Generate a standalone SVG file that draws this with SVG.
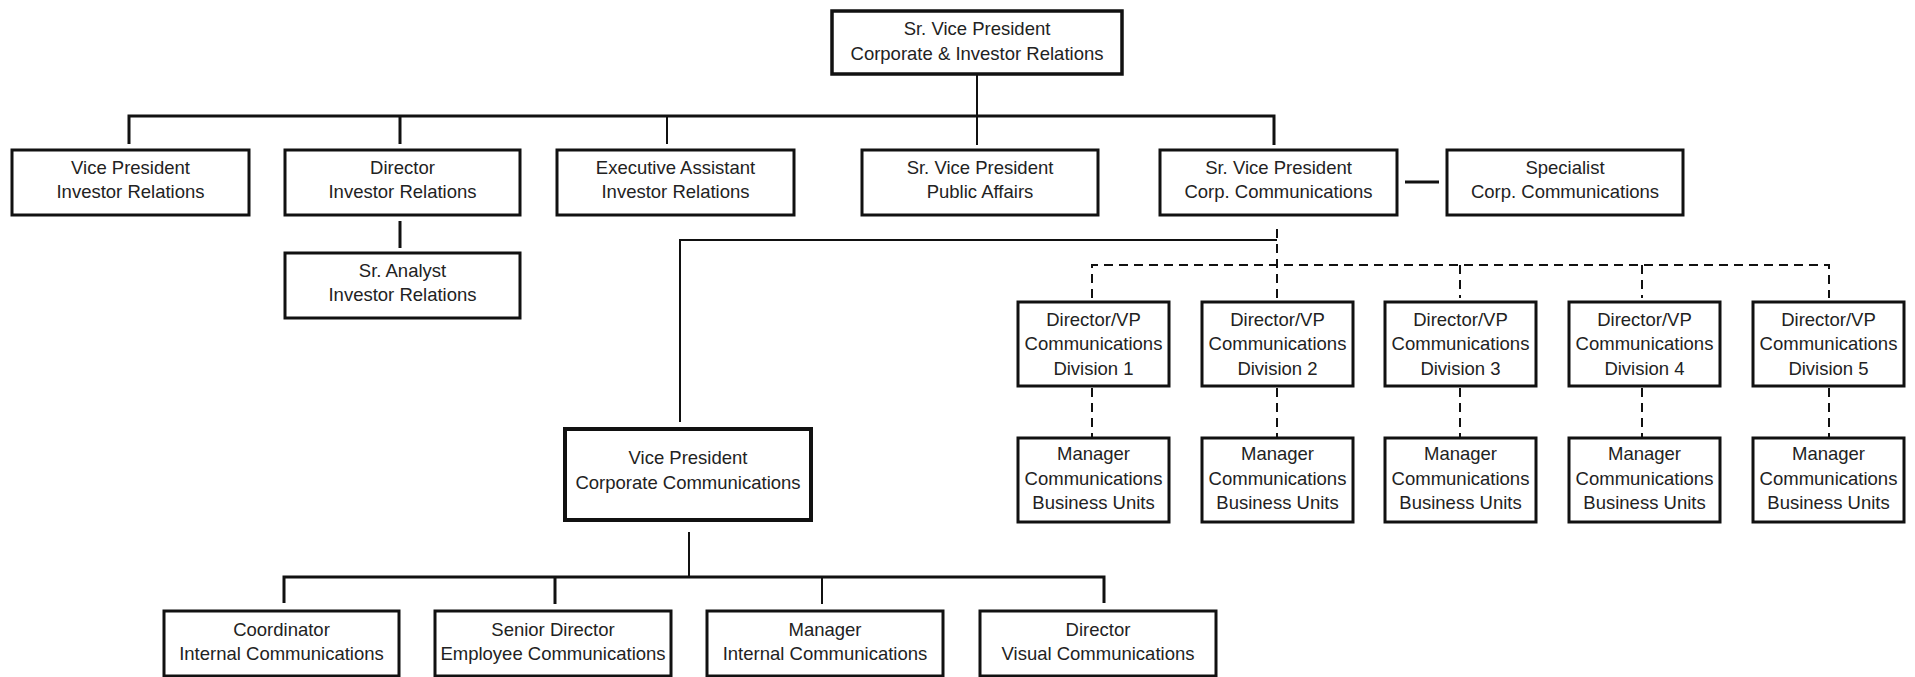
<svg xmlns="http://www.w3.org/2000/svg" width="1915" height="677" viewBox="0 0 1915 677">
  <style>
    .box { fill: #ffffff; stroke: #111111; stroke-width: 3; }
    .box-heavy { fill: #ffffff; stroke: #111111; stroke-width: 4; }
    .t { font-family: "Liberation Sans", Arial, sans-serif; font-size: 18.5px; fill: #222222; text-anchor: middle; }
    .ln { fill: none; stroke: #111111; stroke-linejoin: miter; stroke-linecap: butt; }
    .w3 { stroke-width: 3; }
    .w2 { stroke-width: 2; }
    .dash { stroke-dasharray: 9 6; }
  </style>
  <rect width="1915" height="677" fill="#ffffff"/>

  <!-- connectors -->
  <g id="connectors">
    <!-- top level bus -->
    <path class="ln w3" d="M129,144 V116 H1274 V145"/>
    <path class="ln w3" d="M400,116 V144"/>
    <path class="ln w2" d="M667,116 V144"/>
    <path class="ln w2" d="M977,74 V145"/>
    <!-- side link to specialist -->
    <path class="ln w3" d="M1405,182 H1439"/>
    <!-- director to analyst -->
    <path class="ln w3" d="M400,221 V248"/>
    <!-- corp communications to VP corporate communications -->
    <path class="ln w2" d="M680,422 V240 H1277"/>
    <!-- dotted-line reports to divisions -->
    <path class="ln w2 dash" d="M1277,229 V298"/>
    <path class="ln w2 dash" d="M1092,298 V265 H1829 V298"/>
    <path class="ln w2 dash" d="M1460,265 V298"/>
    <path class="ln w2 dash" d="M1642,265 V298"/>
    <path class="ln w2 dash" d="M1092,388 V437"/>
    <path class="ln w2 dash" d="M1277,388 V437"/>
    <path class="ln w2 dash" d="M1460,388 V437"/>
    <path class="ln w2 dash" d="M1642,388 V437"/>
    <path class="ln w2 dash" d="M1829,388 V437"/>
    <!-- VP corporate communications bus -->
    <path class="ln w2" d="M689,532 V577"/>
    <path class="ln w3" d="M284,603 V577 H1104 V603"/>
    <path class="ln w3" d="M555,577 V604"/>
    <path class="ln w2" d="M822,577 V604"/>
  </g>

  <g id="svp-cir">
    <rect class="box" x="832" y="11" width="290" height="63" style="stroke-width:3.5"/>
    <text class="t" x="977" y="35">Sr. Vice President</text>
    <text class="t" x="977" y="60">Corporate &amp; Investor Relations</text>
  </g>

  <g id="vp-ir">
    <rect class="box" x="12" y="150" width="237" height="65"/>
    <text class="t" x="130.5" y="173.5">Vice President</text>
    <text class="t" x="130.5" y="198">Investor Relations</text>
  </g>
  <g id="dir-ir">
    <rect class="box" x="285" y="150" width="235" height="65"/>
    <text class="t" x="402.5" y="173.5">Director</text>
    <text class="t" x="402.5" y="198">Investor Relations</text>
  </g>
  <g id="ea-ir">
    <rect class="box" x="557" y="150" width="237" height="65"/>
    <text class="t" x="675.5" y="173.5">Executive Assistant</text>
    <text class="t" x="675.5" y="198">Investor Relations</text>
  </g>
  <g id="svp-pa">
    <rect class="box" x="862" y="150" width="236" height="65"/>
    <text class="t" x="980" y="173.5">Sr. Vice President</text>
    <text class="t" x="980" y="198">Public Affairs</text>
  </g>
  <g id="svp-cc">
    <rect class="box" x="1160" y="150" width="237" height="65"/>
    <text class="t" x="1278.5" y="173.5">Sr. Vice President</text>
    <text class="t" x="1278.5" y="198">Corp. Communications</text>
  </g>
  <g id="spec-cc">
    <rect class="box" x="1447" y="150" width="236" height="65"/>
    <text class="t" x="1565" y="173.5">Specialist</text>
    <text class="t" x="1565" y="198">Corp. Communications</text>
  </g>
  <g id="analyst-ir">
    <rect class="box" x="285" y="253" width="235" height="65"/>
    <text class="t" x="402.5" y="276.5">Sr. Analyst</text>
    <text class="t" x="402.5" y="301">Investor Relations</text>
  </g>

  <!-- division communications leads -->
  <g id="div1">
    <rect class="box" x="1018" y="302" width="151" height="84"/>
    <text class="t" x="1093.5" y="326">Director/VP</text>
    <text class="t" x="1093.5" y="350">Communications</text>
    <text class="t" x="1093.5" y="374.5">Division 1</text>
  </g>
  <g id="div2">
    <rect class="box" x="1202" y="302" width="151" height="84"/>
    <text class="t" x="1277.5" y="326">Director/VP</text>
    <text class="t" x="1277.5" y="350">Communications</text>
    <text class="t" x="1277.5" y="374.5">Division 2</text>
  </g>
  <g id="div3">
    <rect class="box" x="1385" y="302" width="151" height="84"/>
    <text class="t" x="1460.5" y="326">Director/VP</text>
    <text class="t" x="1460.5" y="350">Communications</text>
    <text class="t" x="1460.5" y="374.5">Division 3</text>
  </g>
  <g id="div4">
    <rect class="box" x="1569" y="302" width="151" height="84"/>
    <text class="t" x="1644.5" y="326">Director/VP</text>
    <text class="t" x="1644.5" y="350">Communications</text>
    <text class="t" x="1644.5" y="374.5">Division 4</text>
  </g>
  <g id="div5">
    <rect class="box" x="1753" y="302" width="151" height="84"/>
    <text class="t" x="1828.5" y="326">Director/VP</text>
    <text class="t" x="1828.5" y="350">Communications</text>
    <text class="t" x="1828.5" y="374.5">Division 5</text>
  </g>

  <!-- business unit managers -->
  <g id="mgr1">
    <rect class="box" x="1018" y="438" width="151" height="84"/>
    <text class="t" x="1093.5" y="460">Manager</text>
    <text class="t" x="1093.5" y="484.5">Communications</text>
    <text class="t" x="1093.5" y="508.5">Business Units</text>
  </g>
  <g id="mgr2">
    <rect class="box" x="1202" y="438" width="151" height="84"/>
    <text class="t" x="1277.5" y="460">Manager</text>
    <text class="t" x="1277.5" y="484.5">Communications</text>
    <text class="t" x="1277.5" y="508.5">Business Units</text>
  </g>
  <g id="mgr3">
    <rect class="box" x="1385" y="438" width="151" height="84"/>
    <text class="t" x="1460.5" y="460">Manager</text>
    <text class="t" x="1460.5" y="484.5">Communications</text>
    <text class="t" x="1460.5" y="508.5">Business Units</text>
  </g>
  <g id="mgr4">
    <rect class="box" x="1569" y="438" width="151" height="84"/>
    <text class="t" x="1644.5" y="460">Manager</text>
    <text class="t" x="1644.5" y="484.5">Communications</text>
    <text class="t" x="1644.5" y="508.5">Business Units</text>
  </g>
  <g id="mgr5">
    <rect class="box" x="1753" y="438" width="151" height="84"/>
    <text class="t" x="1828.5" y="460">Manager</text>
    <text class="t" x="1828.5" y="484.5">Communications</text>
    <text class="t" x="1828.5" y="508.5">Business Units</text>
  </g>

  <g id="vp-cc">
    <rect class="box-heavy" x="565" y="429" width="246" height="91"/>
    <text class="t" x="688" y="463.5">Vice President</text>
    <text class="t" x="688" y="488.5">Corporate Communications</text>
  </g>

  <g id="coord-ic">
    <rect class="box" x="164" y="611" width="235" height="65"/>
    <text class="t" x="281.5" y="636">Coordinator</text>
    <text class="t" x="281.5" y="659.5">Internal Communications</text>
  </g>
  <g id="sd-ec">
    <rect class="box" x="435" y="611" width="236" height="65"/>
    <text class="t" x="553" y="636">Senior Director</text>
    <text class="t" x="553" y="659.5">Employee Communications</text>
  </g>
  <g id="mgr-ic">
    <rect class="box" x="707" y="611" width="236" height="65"/>
    <text class="t" x="825" y="636">Manager</text>
    <text class="t" x="825" y="659.5">Internal Communications</text>
  </g>
  <g id="dir-vc">
    <rect class="box" x="980" y="611" width="236" height="65"/>
    <text class="t" x="1098" y="636">Director</text>
    <text class="t" x="1098" y="659.5">Visual Communications</text>
  </g>
</svg>
